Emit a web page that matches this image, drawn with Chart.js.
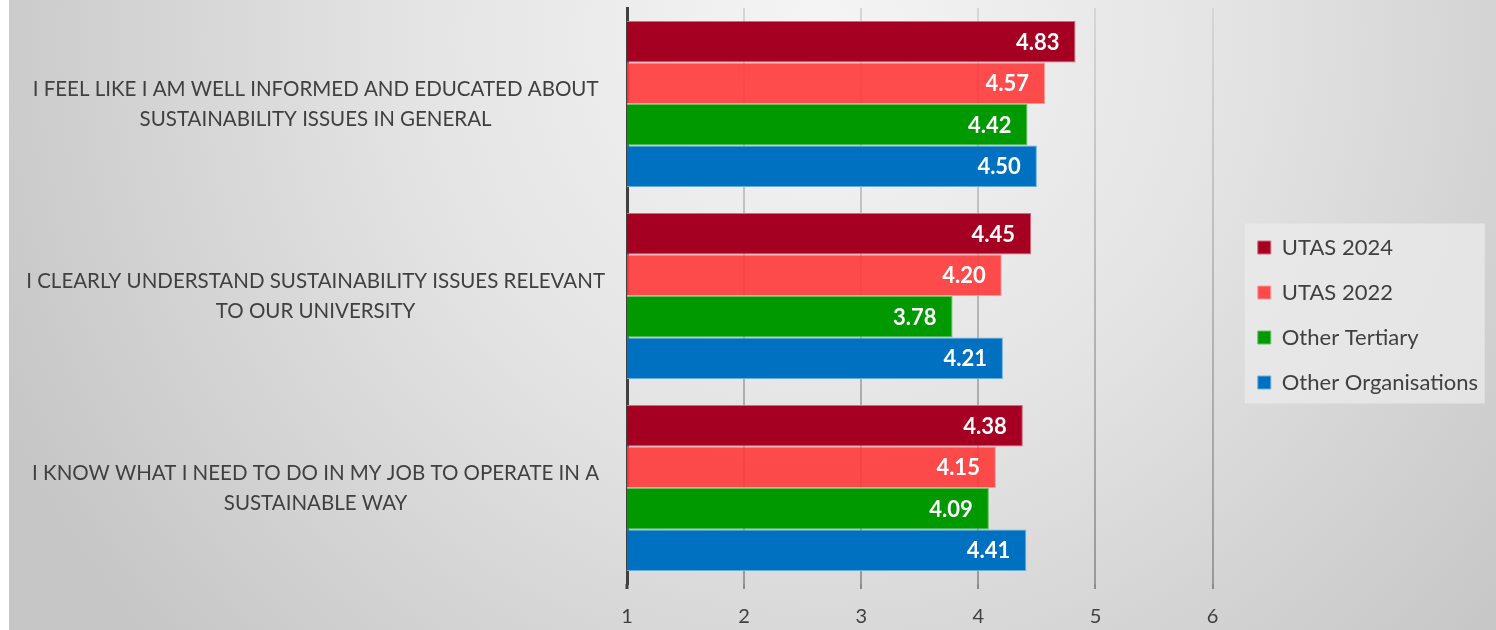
<!DOCTYPE html>
<html>
<head>
<meta charset="utf-8">
<title>Sustainability awareness</title>
<script src="https://cdn.jsdelivr.net/npm/chart.js@4.4.1/dist/chart.umd.min.js"></script>
<style>
  html, body { margin: 0; padding: 0; background: #fff; }
  #wrap { width: 1496px; height: 630px; }
</style>
</head>
<body>
<div id="wrap"><canvas id="chart"></canvas></div>
<script>
// survey statements (multi-line labels)
const statements = [
  ['I FEEL LIKE I AM WELL INFORMED AND EDUCATED ABOUT', 'SUSTAINABILITY ISSUES IN GENERAL'],
  ['I CLEARLY UNDERSTAND SUSTAINABILITY ISSUES RELEVANT', 'TO OUR UNIVERSITY'],
  ['I KNOW WHAT I NEED TO DO IN MY JOB TO OPERATE IN A', 'SUSTAINABLE WAY']
]
const seriesNames = ['UTAS 2024', 'UTAS 2022', 'Other Tertiary', 'Other Organisations']
const utas2024 = [4.83, 4.45, 4.38]
const utas2022 = [4.57, 4.20, 4.15]
const otherTertiary = [4.42, 3.78, 4.09]
const otherOrgs = [4.50, 4.21, 4.41]
const scaleTicks = [1, 2, 3, 4, 5, 6]

const fills = ['#a50021', 'rgba(255,58,58,0.9)', '#009900', '#0070c0']
const edges = ['#d9667a', '#ff9a9a', '#66c266', '#6aaee0']

Chart.defaults.font.family = 'Lato, "Open Sans", sans-serif'
Chart.defaults.color = '#404040'

// grey backdrop, lighter near the top middle
const backdrop = {
  id: 'backdrop',
  beforeDraw(chart) {
    const {ctx, width, height} = chart
    ctx.save()
    ctx.fillStyle = '#fff'
    ctx.fillRect(0, 0, width, height)
    const g = ctx.createRadialGradient(820, 40, 0, 820, 40, 900)
    g.addColorStop(0, '#f5f5f5')
    g.addColorStop(0.45, '#e4e4e4')
    g.addColorStop(1, '#c6c6c6')
    ctx.fillStyle = g
    ctx.fillRect(9, 0, width - 9, height)
    ctx.restore()
  }
}

// panel behind the legend entries
const legendPanel = {
  id: 'legendPanel',
  beforeDraw(chart) {
    const boxes = chart.legend && chart.legend.legendHitBoxes
    if (!boxes || !boxes.length) return
    const first = boxes[0], last = boxes[boxes.length - 1]
    const ctx = chart.ctx
    ctx.save()
    ctx.fillStyle = 'rgba(235,235,235,0.75)'
    ctx.fillRect(first.left - 13, first.top - 13, 240, last.top + last.height - first.top + 23)
    ctx.restore()
  }
}

// value written inside the end of each bar
const barValues = {
  id: 'barValues',
  afterDatasetsDraw(chart) {
    const ctx = chart.ctx
    ctx.save()
    ctx.font = 'bold 22px Lato, "Open Sans", sans-serif'
    ctx.fillStyle = '#fff'
    ctx.textAlign = 'right'
    ctx.textBaseline = 'middle'
    chart.data.datasets.forEach((ds, i) => {
      chart.getDatasetMeta(i).data.forEach((bar, j) => {
        ctx.fillText(ds.data[j].toFixed(2), bar.x - 16, bar.y + 1)
      })
    })
    ctx.restore()
  }
}

let gridGrad = null
const gridColor = (c) => {
  if (c.tick && c.tick.value === 1) return 'rgba(0,0,0,0)'
  const area = c.chart.chartArea
  if (!area) return '#bbb'
  if (!gridGrad) {
    gridGrad = c.chart.ctx.createLinearGradient(0, area.top, 0, area.bottom)
    gridGrad.addColorStop(0, '#d6d6d6')
    gridGrad.addColorStop(1, '#999999')
  }
  return gridGrad
}

const series = [utas2024, utas2022, otherTertiary, otherOrgs]

new Chart(document.getElementById('chart'), {
  type: 'bar',
  data: {
    labels: statements,
    datasets: series.map((vals, i) => ({
      label: seriesNames[i],
      data: vals,
      backgroundColor: fills[i],
      borderColor: edges[i],
      borderWidth: 1,
      categoryPercentage: 0.865,
      barPercentage: 1
    }))
  },
  options: {
    indexAxis: 'y',
    responsive: true,
    maintainAspectRatio: false,
    animation: false,
    layout: { padding: { top: 0, right: 8, bottom: 0, left: 0 } },
    scales: {
      x: {
        min: 1,
        max: 6.19,
        afterBuildTicks: (s) => {
          s.ticks = scaleTicks.map(v => ({ value: v }))
        },
        afterFit: (s) => {
          s.height = 46
          s.paddingLeft = 0
          s.paddingRight = 0
        },
        border: { display: false },
        grid: {
          color: gridColor,
          lineWidth: 2,
          drawTicks: true,
          tickLength: 5,
          tickColor: (c) => c.tick && c.tick.value === 1 ? '#404040' : '#8c8c8c',
          tickWidth: (c) => c.tick && c.tick.value === 1 ? 3 : 2
        },
        ticks: {
          padding: 16,
          color: '#404040',
          font: { size: 20 }
        }
      },
      y: {
        afterFit: (s) => {
          s.width = 627
          s.paddingTop = 8
          s.paddingBottom = 0
        },
        border: { display: true, color: '#404040', width: 3 },
        grid: { display: false, drawTicks: false },
        ticks: {
          crossAlign: 'center',
          padding: 22,
          color: '#404040',
          font: { size: 20.5, lineHeight: 1.46 }
        }
      }
    },
    plugins: {
      legend: {
        position: 'right',
        labels: {
          boxWidth: 13,
          boxHeight: 13,
          padding: 23,
          color: '#404040',
          font: { size: 22 }
        }
      },
      tooltip: { enabled: false }
    }
  },
  plugins: [backdrop, legendPanel, barValues]
})
</script>
</body>
</html>
